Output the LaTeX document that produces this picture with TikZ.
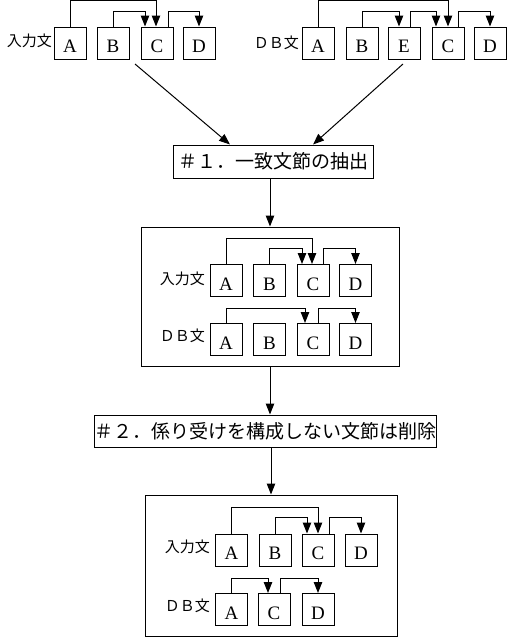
\documentclass[tikz,border=0pt]{standalone}
\usepackage{fontspec}
\usetikzlibrary{arrows.meta}
\newfontfamily\jpfont{Noto Sans CJK JP}
\newfontfamily\letfont{Liberation Serif}
\tikzset{
  bunsetsu/.style={draw, line width=1pt, minimum width=32, minimum height=32, inner sep=0pt,
                   text height=19.5pt, text depth=0pt, font=\letfont\fontsize{19}{19}\selectfont},
  sentlab/.style={anchor=east, inner sep=0pt, font=\jpfont\fontsize{15}{15}\selectfont},
  stepbox/.style={draw, line width=1pt, inner sep=0pt, font=\jpfont\fontsize{19}{19}\selectfont},
  framebox/.style={draw, line width=1pt, inner sep=0pt},
  dep/.style={line width=1pt, -{Triangle[length=11pt,width=8.5pt]}}
}

\begin{document}
\begin{tikzpicture}[x=1pt, y=-1pt]
            \useasboundingbox (0,0) rectangle (507,637);

            \node[sentlab]  (inL)  at ( 52.0,  41.0) {入力文};
            \node[bunsetsu] (inA)  at ( 70.0,  43.0) {A};
            \node[bunsetsu] (inB)  at (113.0,  43.0) {B};
            \node[bunsetsu] (inC)  at (157.0,  43.0) {C};
            \node[bunsetsu] (inD)  at (199.0,  43.0) {D};
            \draw[dep] (inA.north) -- ++(0,-26) -| ([xshift=-1]inC.north);
            \draw[dep] (inB.north) -- ++(0,-15) -| ([xshift=-12]inC.north);
            \draw[dep] ([xshift=11]inC.north) -- ++(0,-15) -| (inD.north);

            \node[sentlab]  (dbL)  at (299.0,  43.0) {ＤＢ文};
            \node[bunsetsu] (dbA)  at (318.0,  43.0) {A};
            \node[bunsetsu] (dbB)  at (362.0,  43.0) {B};
            \node[bunsetsu] (dbE)  at (404.0,  43.0) {E};
            \node[bunsetsu] (dbC)  at (448.0,  43.0) {C};
            \node[bunsetsu] (dbD)  at (490.0,  43.0) {D};
            \draw[dep] (dbA.north) -- ++(0,-26) -| (dbC.north);
            \draw[dep] (dbB.north) -- ++(0,-15) -| ([xshift=-5]dbE.north);
            \draw[dep] ([xshift=6]dbE.north) -- ++(0,-15) -| ([xshift=-12]dbC.north);
            \draw[dep] ([xshift=10]dbC.north) -- ++(0,-15) -| (dbD.north);

            \node[stepbox, minimum width=200, minimum height=33] (step1) at (273.0, 161.5) {＃１．一致文節の抽出};
            \coordinate (inOut) at (135.0,  64.0);
            \coordinate (dbOut) at (403.0,  64.0);
            \draw[dep] (inOut) -- ([xshift=-43]step1.north);
            \draw[dep] (dbOut) -- ([xshift=40]step1.north);

            \node[framebox, minimum width=258, minimum height=139] (midbox) at (270.0, 296.5) {};
            \draw[dep] (midbox.north |- step1.south) -- (midbox.north);

            \node[sentlab]  (minL)  at (205.0, 279.0) {入力文};
            \node[bunsetsu] (minA)  at (226.0, 280.5) {A};
            \node[bunsetsu] (minB)  at (269.5, 280.5) {B};
            \node[bunsetsu] (minC)  at (313.0, 280.5) {C};
            \node[bunsetsu] (minD)  at (355.5, 280.5) {D};
            \draw[dep] (minA.north) -- ++(0,-26) -| ([xshift=-1]minC.north);
            \draw[dep] (minB.north) -- ++(0,-16) -| ([xshift=-11]minC.north);
            \draw[dep] ([xshift=10]minC.north) -- ++(0,-16) -| (minD.north);

            \node[sentlab]  (mdbL)  at (205.0, 336.0) {ＤＢ文};
            \node[bunsetsu] (mdbA)  at (226.0, 339.5) {A};
            \node[bunsetsu] (mdbB)  at (269.5, 339.5) {B};
            \node[bunsetsu] (mdbC)  at (313.0, 339.5) {C};
            \node[bunsetsu] (mdbD)  at (355.5, 339.5) {D};
            \draw[dep] (mdbA.north) -- ++(0,-15) -| ([xshift=-8]mdbC.north);
            \draw[dep] ([xshift=5]mdbC.north) -- ++(0,-15) -| (mdbD.north);

            \node[stepbox, minimum width=336, minimum height=32] (step2) at (265.0, 431.0) {＃２．係り受けを構成しない文節は削除};
            \draw[dep] (midbox.south) -- (midbox.south |- step2.north);

            \node[framebox, minimum width=252, minimum height=141] (botbox) at (271.0, 565.5) {};
            \draw[dep] (botbox.north |- step2.south) -- (botbox.north);

            \node[sentlab]  (binL)  at (210.0, 547.0) {入力文};
            \node[bunsetsu] (binA)  at (231.5, 550.0) {A};
            \node[bunsetsu] (binB)  at (275.0, 550.0) {B};
            \node[bunsetsu] (binC)  at (318.0, 550.0) {C};
            \node[bunsetsu] (binD)  at (361.0, 550.0) {D};
            \draw[dep] (binA.north) -- ++(0,-26) -| (binC.north);
            \draw[dep] (binB.north) -- ++(0,-16) -| ([xshift=-11]binC.north);
            \draw[dep] ([xshift=11]binC.north) -- ++(0,-16) -| (binD.north);

            \node[sentlab]  (bdbL)  at (210.0, 606.0) {ＤＢ文};
            \node[bunsetsu] (bdbA)  at (231.5, 609.5) {A};
            \node[bunsetsu] (bdbC)  at (274.0, 609.5) {C};
            \node[bunsetsu] (bdbD)  at (318.0, 609.5) {D};
            \draw[dep] (bdbA.north) -- ++(0,-15) -| ([xshift=-6]bdbC.north);
            \draw[dep] ([xshift=6]bdbC.north) -- ++(0,-15) -| (bdbD.north);
        \end{tikzpicture}
\end{document}
